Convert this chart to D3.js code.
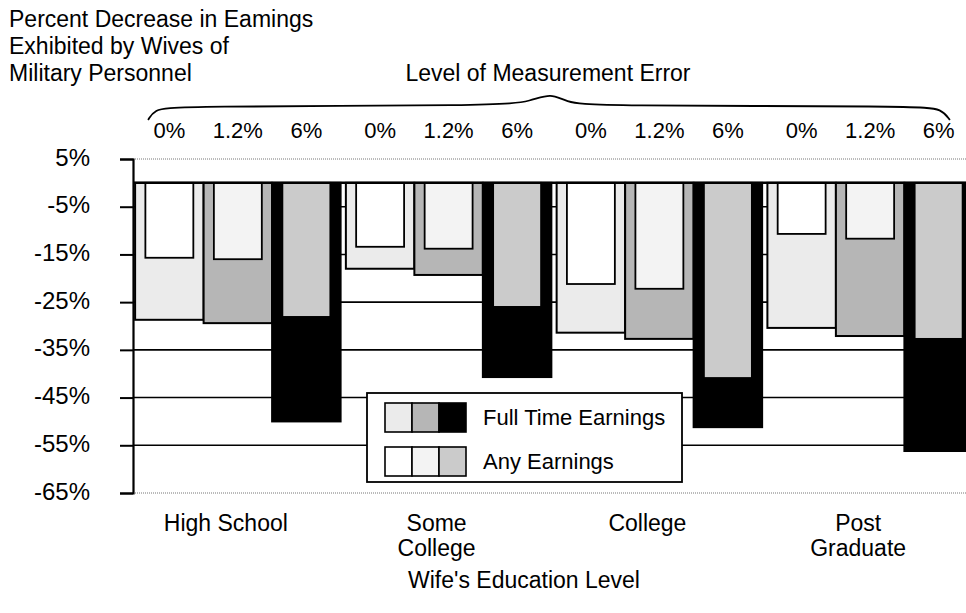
<!DOCTYPE html>
<html>
<head>
  <meta charset="utf-8">
  <title>Percent Decrease in Earnings</title>
  <script src="https://d3js.org/d3.v7.min.js"></script>
  <style>
    body { margin: 0; background: #fff; }
    text { font-family: "Liberation Sans", Arial, sans-serif; fill: #000; }
  </style>
</head>
<body>

  <svg width="966" height="613"></svg>

  <script>

    // Data (percent change, negative = decrease)
    const categories = ["High School", "Some College", "College", "Post Graduate"];
    const levels = ["0%", "1.2%", "6%"];

    // Full time earnings, one array per measurement-error level
    const fullTime0 = [-28.7, -18.0, -31.4, -30.4];
    const fullTime12 = [-29.4, -19.3, -32.7, -32.1];
    const fullTime6 = [-50.0, -40.7, -51.2, -56.2];

    // Any earnings
    const any0 = [-15.7, -13.4, -21.2, -10.7];
    const any12 = [-16.0, -13.8, -22.2, -11.7];
    const any6 = [-28.1, -26.0, -40.9, -32.7];

    const tickValues = [5, -5, -15, -25, -35, -45, -55, -65];

    const fullSeries = [fullTime0, fullTime12, fullTime6];
    const anySeries = [any0, any12, any6];
    const fullColors = ["#ebebeb", "#b6b6b6", "#000000"];
    const anyColors = ["#ffffff", "#f3f3f3", "#cbcbcb"];

    // Chart dimensions
    const width = 966;
    const height = 613;
    const plot = { left: 133, right: 975, top: 159, bottom: 493 };

    const svg = d3.select("svg")
      .attr("width", width)
      .attr("height", height);

    // Scales
    const x0 = d3.scaleBand()
      .domain(categories)
      .range([plot.left, plot.right])
      .paddingInner(0.025)
      .paddingOuter(0.01);

    const x1 = d3.scaleBand()
      .domain(levels)
      .range([0, x0.bandwidth()]);

    const y = d3.scaleLinear()
      .domain([-65, 5])
      .range([plot.bottom, plot.top]);

    // Rows: one per category x level
    const rows = [];
    categories.forEach((c, i) => {
      levels.forEach((l, j) => {
        rows.push({ cat: c, level: l, j: j, full: fullSeries[j][i], any: anySeries[j][i] });
      });
    });

    // Gridlines
    svg.append("g")
      .selectAll("line")
      .data(tickValues)
      .enter().append("line")
        .attr("x1", plot.left)
        .attr("x2", width)
        .attr("y1", d => y(d))
        .attr("y2", d => y(d))
        .attr("stroke", d => (d === 5 || d === -65) ? "#777" : "#000")
        .attr("stroke-width", d => (d === 5 || d === -65) ? 1 : 1.6)
        .attr("stroke-dasharray", d => (d === 5 || d === -65) ? "1,1" : null);

    // Full time bars (wide, behind)
    const bars = svg.append("g");
    bars.selectAll(".full")
      .data(rows)
      .enter().append("rect")
        .attr("class", "full")
        .attr("x", d => x0(d.cat) + x1(d.level))
        .attr("y", y(0))
        .attr("width", x1.bandwidth())
        .attr("height", d => y(d.full) - y(0))
        .attr("fill", d => fullColors[d.j])
        .attr("stroke", "#000")
        .attr("stroke-width", 2);

    // Any earnings bars (narrow, in front)
    const inner = 0.7;
    bars.selectAll(".any")
      .data(rows)
      .enter().append("rect")
        .attr("class", "any")
        .attr("x", d => x0(d.cat) + x1(d.level) + x1.bandwidth() * (1 - inner) / 2)
        .attr("y", y(0))
        .attr("width", x1.bandwidth() * inner)
        .attr("height", d => y(d.any) - y(0))
        .attr("fill", d => anyColors[d.j])
        .attr("stroke", "#000")
        .attr("stroke-width", 1.8);

    // Zero line
    svg.append("line")
      .attr("x1", plot.left)
      .attr("x2", width)
      .attr("y1", y(0))
      .attr("y2", y(0))
      .attr("stroke", "#000")
      .attr("stroke-width", 2.5);

    // Y axis
    const yAxis = svg.append("g")
      .attr("transform", `translate(${plot.left},0)`)
      .call(d3.axisLeft(y).tickValues(tickValues).tickFormat(d => d + "%").tickSize(13).tickPadding(30));
    yAxis.select(".domain").attr("stroke-width", 2.2);
    yAxis.selectAll(".tick line").attr("stroke-width", 2);
    yAxis.selectAll(".tick text")
      .style("font-family", "'Liberation Sans', Arial, sans-serif")
      .style("font-size", "24px")
      .attr("dy", "0.25em");

    // Level labels over each bar
    svg.append("g")
      .selectAll("text")
      .data(rows)
      .enter().append("text")
        .attr("x", d => x0(d.cat) + x1(d.level) + x1.bandwidth() / 2)
        .attr("y", 138)
        .attr("text-anchor", "middle")
        .style("font-size", "22px")
        .text(d => d.level);

    // Brace over the levels
    const bx0 = x0(categories[0]) + 13;
    const bx1 = x0(categories[3]) + x1("6%") + x1.bandwidth() - 23;
    const bmid = 551;
    const braceLine = d3.line().curve(d3.curveBasis);
    svg.append("path")
      .attr("d", braceLine([
        [bx0, 120], [bx0 + 6, 110], [bx0 + 25, 106], [bmid - 50, 106],
        [bmid - 20, 101], [bmid, 93], [bmid + 15, 102], [bmid + 40, 106],
        [bx1 - 30, 106], [bx1 - 8, 109], [bx1, 120]
      ]))
      .attr("fill", "none")
      .attr("stroke", "#000")
      .attr("stroke-width", 1.8);

    svg.append("text")
      .attr("x", 548)
      .attr("y", 81)
      .attr("text-anchor", "middle")
      .style("font-size", "23px")
      .text("Level of Measurement Error");

    // Title
    const title = ["Percent Decrease in Eamings", "Exhibited by Wives of", "Military Personnel"];
    svg.append("text")
      .attr("x", 9)
      .attr("y", 27)
      .style("font-size", "23px")
      .selectAll("tspan")
      .data(title)
      .enter().append("tspan")
        .attr("x", 9)
        .attr("dy", (d, i) => i === 0 ? 0 : 27)
        .text(d => d);

    // Category labels
    const catLines = {
      "High School": ["High School"],
      "Some College": ["Some", "College"],
      "College": ["College"],
      "Post Graduate": ["Post", "Graduate"]
    };
    svg.append("g")
      .selectAll("text")
      .data(categories)
      .enter().append("text")
        .attr("x", d => x0(d) + x0.bandwidth() / 2 - 12)
        .attr("y", 531)
        .attr("text-anchor", "middle")
        .style("font-size", "23px")
        .each(function(d) {
          const cx = x0(d) + x0.bandwidth() / 2 - 12;
          d3.select(this).selectAll("tspan")
            .data(catLines[d])
            .enter().append("tspan")
              .attr("x", cx)
              .attr("dy", (t, i) => i === 0 ? 0 : 25)
              .text(t => t);
        });

    svg.append("text")
      .attr("x", 524)
      .attr("y", 588)
      .attr("text-anchor", "middle")
      .style("font-size", "23px")
      .text("Wife's Education Level");

    // Legend
    const legend = svg.append("g").attr("transform", "translate(367,393)");
    legend.append("rect")
      .attr("width", 315)
      .attr("height", 89)
      .attr("fill", "#fff")
      .attr("stroke", "#000")
      .attr("stroke-width", 1.8);

    const legendRows = [
      { label: "Full Time Earnings", colors: fullColors, y: 10 },
      { label: "Any Earnings", colors: anyColors, y: 54 }
    ];
    legendRows.forEach(r => {
      legend.append("g")
        .selectAll("rect")
        .data(r.colors)
        .enter().append("rect")
          .attr("x", (c, i) => 18 + i * 27)
          .attr("y", r.y)
          .attr("width", 27)
          .attr("height", 29)
          .attr("fill", c => c)
          .attr("stroke", "#000")
          .attr("stroke-width", 1.6);
      legend.append("text")
        .attr("x", 116)
        .attr("y", r.y + 22)
        .style("font-size", "22px")
        .text(r.label);
    });

  </script>

</body>
</html>
